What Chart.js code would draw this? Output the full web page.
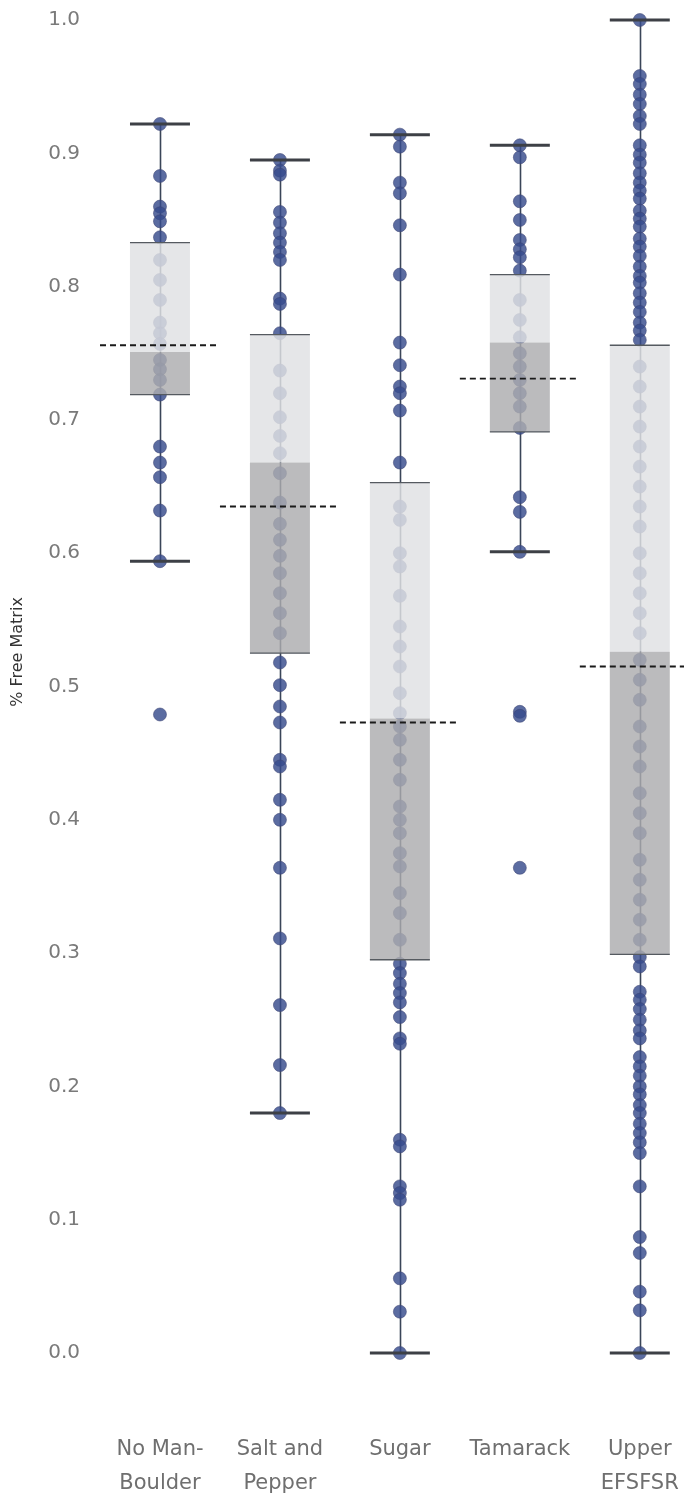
<!DOCTYPE html>
<html>
<head>
<meta charset="utf-8">
<script src="https://cdn.jsdelivr.net/npm/chart.js@4/dist/chart.umd.min.js"></script>
<style>
  html, body { margin: 0; padding: 0; background: #ffffff; }
  #wrap { width: 684px; height: 1503px; position: relative; }
</style>
</head>
<body>
<div id="wrap"><canvas id="c" width="684" height="1503"></canvas></div>
<script>
// Categories (multi-line axis labels)
const categories = [['No Man-', 'Boulder'], ['Salt and', 'Pepper'], ['Sugar'], ['Tamarack'], ['Upper', 'EFSFSR']];
const yTickValues = [0, 0.1, 0.2, 0.3, 0.4, 0.5, 0.6, 0.7, 0.8, 0.9, 1.0];
const axisTitle = '% Free Matrix';

// Box-plot summary per category
const whiskerHigh = [0.922, 0.895, 0.914, 0.906, 1.000];
const q3          = [0.833, 0.764, 0.653, 0.809, 0.756];
const median      = [0.751, 0.668, 0.476, 0.758, 0.526];
const q1          = [0.719, 0.525, 0.295, 0.691, 0.299];
const whiskerLow  = [0.594, 0.180, 0.000, 0.601, 0.000];
const mean        = [0.756, 0.635, 0.473, 0.731, 0.515];

// Individual sample values
const noManBoulder = [0.922, 0.883, 0.860, 0.855, 0.849, 0.837, 0.820, 0.805, 0.790, 0.773, 0.765, 0.757, 0.745, 0.738, 0.730,
  0.719, 0.680, 0.668, 0.657, 0.632, 0.594, 0.479];
const saltAndPepper = [0.895, 0.887, 0.884, 0.856, 0.848, 0.840, 0.833, 0.826, 0.820, 0.791, 0.787, 0.765,
  0.737, 0.720, 0.702, 0.688, 0.675, 0.660, 0.638, 0.622, 0.610, 0.598, 0.585, 0.570, 0.555, 0.540,
  0.518, 0.501, 0.485, 0.473, 0.445, 0.440, 0.415, 0.400, 0.364, 0.311, 0.261, 0.216, 0.180];
const sugar = [0.914, 0.905, 0.878, 0.870, 0.846, 0.809, 0.758, 0.741, 0.725, 0.720, 0.707, 0.668,
  0.635, 0.625, 0.600, 0.590, 0.568, 0.545, 0.530, 0.515, 0.495, 0.480, 0.470, 0.460, 0.445, 0.430,
  0.410, 0.400, 0.390, 0.375, 0.365, 0.345, 0.330, 0.310,
  0.292, 0.285, 0.277, 0.270, 0.263, 0.252, 0.236, 0.232, 0.160, 0.155, 0.125, 0.120, 0.115, 0.056, 0.031, 0.000];
const tamarack = [0.906, 0.897, 0.864, 0.850, 0.835, 0.828, 0.822, 0.812,
  0.790, 0.775, 0.762, 0.750, 0.740, 0.730, 0.720, 0.710,
  0.694, 0.642, 0.631, 0.601, 0.481, 0.478, 0.364];
const upperEFSFSR = [1.000, 0.958, 0.952, 0.944, 0.937, 0.928, 0.922, 0.906, 0.899, 0.893, 0.885, 0.878, 0.872, 0.866,
  0.857, 0.851, 0.845, 0.836, 0.830, 0.823, 0.815, 0.808, 0.803, 0.795, 0.788, 0.781, 0.773, 0.767, 0.760,
  0.740, 0.725, 0.710, 0.695, 0.680, 0.665, 0.650, 0.635, 0.620, 0.600, 0.585, 0.570, 0.555, 0.540, 0.520,
  0.505, 0.490, 0.470, 0.455, 0.440, 0.420, 0.405, 0.390, 0.370, 0.355, 0.340, 0.325, 0.310,
  0.297, 0.290, 0.271, 0.265, 0.258, 0.250, 0.242, 0.236, 0.222, 0.215, 0.208, 0.200, 0.194, 0.186, 0.180,
  0.172, 0.165, 0.158, 0.150, 0.125, 0.087, 0.075, 0.046, 0.032, 0.000];
const seriesValues = [noManBoulder, saltAndPepper, sugar, tamarack, upperEFSFSR];

const FONT = '"DejaVu Sans", "Open Sans", sans-serif';
const BOX_HALF = 0.25;   // half box width, in category units
const SLOT_HALF = 0.5;   // half slot width (mean line extent)

// Whiskers, box edges, caps, mean lines and the rotated axis title
const boxDecor = {
  id: 'boxDecor',
  beforeDatasetsDraw(chart) {
    const { ctx, scales: { x, y } } = chart;
    ctx.save();
    ctx.strokeStyle = '#3a4558';
    ctx.lineWidth = 1.6;
    categories.forEach((c, i) => {
      const px = Math.round(x.getPixelForValue(i)) + 0.5;
      ctx.beginPath();
      ctx.moveTo(px, y.getPixelForValue(whiskerLow[i]));
      ctx.lineTo(px, y.getPixelForValue(whiskerHigh[i]));
      ctx.stroke();
    });
    ctx.restore();
  },
  afterDatasetsDraw(chart) {
    const { ctx, scales: { x, y } } = chart;
    ctx.save();
    categories.forEach((c, i) => {
      const l = x.getPixelForValue(i - BOX_HALF);
      const r = x.getPixelForValue(i + BOX_HALF);
      // box top / bottom edges
      ctx.strokeStyle = '#555a60';
      ctx.lineWidth = 1.3;
      [q1[i], q3[i]].forEach(v => {
        const py = y.getPixelForValue(v);
        ctx.beginPath(); ctx.moveTo(l, py); ctx.lineTo(r, py); ctx.stroke();
      });
      // whisker caps
      ctx.strokeStyle = '#3d4046';
      ctx.lineWidth = 3;
      [whiskerLow[i], whiskerHigh[i]].forEach(v => {
        const py = y.getPixelForValue(v);
        ctx.beginPath(); ctx.moveTo(l, py); ctx.lineTo(r, py); ctx.stroke();
      });
      // mean reference line
      ctx.strokeStyle = '#1a1a1a';
      ctx.lineWidth = 1.9;
      ctx.setLineDash([6, 4]);
      const my = y.getPixelForValue(mean[i]);
      ctx.beginPath();
      ctx.moveTo(x.getPixelForValue(i - SLOT_HALF), my);
      ctx.lineTo(x.getPixelForValue(i + SLOT_HALF), my);
      ctx.stroke();
      ctx.setLineDash([]);
    });
    // axis title
    ctx.fillStyle = '#333333';
    ctx.font = '16px ' + FONT;
    ctx.textAlign = 'center';
    ctx.textBaseline = 'middle';
    ctx.translate(18, 652);
    ctx.rotate(-Math.PI / 2);
    ctx.fillText(axisTitle, 0, 0);
    ctx.restore();
  }
};

const pointSets = seriesValues.map((vals, i) => ({
  type: 'scatter',
  label: categories[i].join(' '),
  data: vals.map(v => ({ x: i, y: v })),
  pointRadius: 6.5,
  pointBackgroundColor: 'rgba(55,76,140,0.82)',
  pointBorderColor: 'rgba(60,68,115,0.55)',
  pointBorderWidth: 1,
  clip: false,
  order: 2
}));

const lowerBox = {
  type: 'bar',
  label: 'Q1–Median',
  data: categories.map((c, i) => ({ x: i, y: [q1[i], median[i]] })),
  backgroundColor: 'rgba(172,172,174,0.82)',
  borderWidth: 0,
  grouped: false,
  categoryPercentage: 1.0,
  barPercentage: 0.5,
  order: 0
};
const upperBox = {
  type: 'bar',
  label: 'Median–Q3',
  data: categories.map((c, i) => ({ x: i, y: [median[i], q3[i]] })),
  backgroundColor: 'rgba(224,225,228,0.84)',
  borderWidth: 0,
  grouped: false,
  categoryPercentage: 1.0,
  barPercentage: 0.5,
  order: 0
};

new Chart(document.getElementById('c'), {
  type: 'scatter',
  data: { datasets: [lowerBox, upperBox, ...pointSets] },
  plugins: [boxDecor],
  options: {
    responsive: false,
    devicePixelRatio: 1,
    animation: false,
    events: [],
    layout: { padding: { top: 20, right: 0, bottom: 0, left: 0 } },
    plugins: { legend: { display: false }, tooltip: { enabled: false } },
    scales: {
      x: {
        type: 'linear',
        min: -0.5,
        max: 4.306,
        offset: false,
        grid: { display: false, drawTicks: false },
        border: { display: false },
        afterBuildTicks: s => { s.ticks = categories.map((c, i) => ({ value: i })); },
        afterFit: s => { s.height = 150; s.paddingLeft = 0; s.paddingRight = 0; },
        ticks: {
          autoSkip: false,
          maxRotation: 0,
          padding: 80,
          color: '#6f6f6f',
          font: { family: FONT, size: 21, lineHeight: 1.62 },
          callback: v => categories[v]
        }
      },
      y: {
        min: 0,
        max: 1,
        grid: { display: false, drawTicks: false },
        border: { display: false },
        afterBuildTicks: s => { s.ticks = yTickValues.map(v => ({ value: v })); },
        afterFit: s => { s.width = 100; s.paddingTop = 0; s.paddingBottom = 0; },
        ticks: {
          padding: 20,
          color: '#7a7a7a',
          font: { family: FONT, size: 20 },
          callback: v => Number(v).toFixed(1)
        }
      }
    }
  }
});
</script>
</body>
</html>
